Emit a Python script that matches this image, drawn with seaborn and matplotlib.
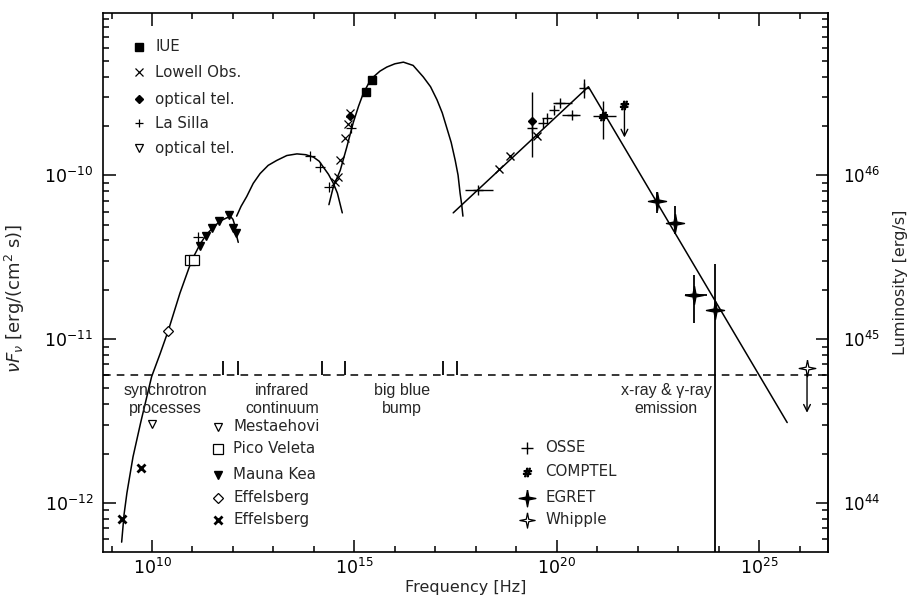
import numpy as np
import matplotlib
matplotlib.use("Agg")
import matplotlib.pyplot as plt
import seaborn as sns
from matplotlib.ticker import FixedLocator, NullFormatter

sns.set_theme(style="ticks")
plt.rcParams['font.family'] = ['DejaVu Sans']
plt.rcParams['mathtext.fontset'] = 'dejavusans'

# ---------------- data (log10 nu [Hz], log10 nuFnu [erg/cm^2/s]) ----------------
# model curves
sync_lognu = [9.25, 9.31, 9.38, 9.53, 9.72, 9.99, 10.20, 10.40, 10.69, 10.98, 11.19, 11.35, 11.51, 11.68, 11.85, 11.95, 12.00, 12.05, 12.09, 12.13]
sync_logF = [-12.24, -12.07, -11.94, -11.72, -11.51, -11.23, -11.09, -10.95, -10.72, -10.52, -10.42, -10.36, -10.32, -10.28, -10.26, -10.255, -10.27, -10.31, -10.37, -10.41]
ir_lognu = [12.09, 12.20, 12.34, 12.50, 12.67, 12.87, 13.08, 13.33, 13.58, 13.80, 13.99, 14.13, 14.23, 14.36, 14.48, 14.58, 14.65, 14.70]
ir_logF = [-10.25, -10.19, -10.13, -10.05, -9.99, -9.94, -9.91, -9.88, -9.87, -9.875, -9.89, -9.915, -9.95, -9.995, -10.05, -10.11, -10.18, -10.23]
bbb_lognu = [14.37, 14.48, 14.65, 14.81, 14.97, 15.10, 15.22, 15.35, 15.47, 15.63, 15.80, 16.00, 16.21, 16.45, 16.70, 16.88, 17.04, 17.17, 17.28, 17.39, 17.49, 17.56, 17.61, 17.65, 17.68]
bbb_logF = [-10.18, -10.07, -9.97, -9.83, -9.68, -9.58, -9.50, -9.44, -9.40, -9.365, -9.34, -9.32, -9.31, -9.33, -9.40, -9.46, -9.54, -9.62, -9.71, -9.80, -9.91, -10.00, -10.11, -10.18, -10.25]
xray_lognu = [17.44, 20.78, 25.69]
xray_logF = [-10.23, -9.46, -11.51]

# radio / mm / IR / optical / UV measurements
effx_lognu = [9.25, 9.72]
effx_logF = [-12.10, -11.79]
mest_lognu = [9.99]
mest_logF = [-11.52]
effd_lognu = [10.40]
effd_logF = [-10.95]
pico_lognu = [10.95, 11.03]
pico_logF = [-10.52, -10.52]
mk_lognu = [11.19, 11.33, 11.48, 11.66, 11.90, 12.00, 12.08]
mk_logF = [-10.43, -10.37, -10.32, -10.28, -10.24, -10.32, -10.35]
lasilla_lognu = [11.14, 13.90, 14.15, 14.37, 14.91]
lasilla_logF = [-10.38, -9.88, -9.95, -10.07, -9.71]
lowell_lognu = [14.52, 14.60, 14.65, 14.77, 14.85, 14.88]
lowell_logF = [-10.04, -10.01, -9.91, -9.77, -9.69, -9.62]
opt_lognu = [14.88, 19.38]
opt_logF = [-9.64, -9.67]
iue_lognu = [15.28, 15.43]
iue_logF = [-9.49, -9.42]

# X-ray / OSSE
xr_lognu = [18.06, 19.38, 19.67, 19.75, 19.92, 20.08, 20.37, 20.66]
xr_logF = [-10.09, -9.71, -9.68, -9.65, -9.60, -9.56, -9.63, -9.47]
xr_lognu_lo = [17.73, 19.38, 19.67, 19.75, 19.92, 19.91, 20.12, 20.66]
xr_lognu_hi = [18.43, 19.38, 19.67, 19.75, 19.92, 20.38, 20.58, 20.66]
xr_logF_lo = [-10.09, -9.89, -9.68, -9.65, -9.60, -9.56, -9.63, -9.53]
xr_logF_hi = [-10.09, -9.49, -9.68, -9.65, -9.60, -9.56, -9.63, -9.41]
xrx_lognu = [18.56, 18.85, 19.51]
xrx_logF = [-9.96, -9.88, -9.76]

# COMPTEL
comp_lognu = [21.15]
comp_logF = [-9.64]
comp_lognu_lo = [20.90]
comp_lognu_hi = [21.45]
comp_logF_lo = [-9.78]
comp_logF_hi = [-9.55]
compul_lognu = [21.67]
compul_logF = [-9.57]
compul_logF_to = [-9.77]

# EGRET
egret_lognu = [22.47, 22.92, 23.38, 23.91]
egret_logF = [-10.16, -10.29, -10.73, -10.82]
egret_lognu_lo = [22.40, 22.85, 23.17, 23.85]
egret_lognu_hi = [22.55, 23.00, 23.71, 23.98]
egret_logF_lo = [-10.23, -10.36, -10.90, -13.00]
egret_logF_hi = [-10.10, -10.19, -10.61, -10.54]

# Whipple upper limit
whip_lognu = [26.18]
whip_logF = [-11.18]
whip_logF_to = [-11.45]

# region separator
dash_level = 6.0e-12
boundary_lognu = [11.75, 12.13, 14.20, 14.77, 17.19, 17.54]

# axis ticks
x_major_exp = [10, 15, 20, 25]
y_major_exp = [-12, -11, -10]
lum_major_exp = [44, 45, 46]
L_FACTOR = 1.0e56   # luminosity / flux conversion

# thin four-pointed star marker shape
STAR4 = [(0, 1), (0.16, 0.16), (1, 0), (0.16, -0.16), (0, -1), (-0.16, -0.16), (-1, 0), (-0.16, 0.16), (0, 1)]


def p(a):
    return 10.0 ** np.asarray(a, dtype=float)


fig = plt.figure(figsize=(9.15, 6.02), dpi=100)
ax = fig.add_axes([0.1126, 0.0831, 0.7924, 0.8953])
ax.set_xscale('log')
ax.set_yscale('log')

# model curves
for lx, ly in [(sync_lognu, sync_logF), (ir_lognu, ir_logF),
               (bbb_lognu, bbb_logF), (xray_lognu, xray_logF)]:
    sns.lineplot(x=p(lx), y=p(ly), ax=ax, color='black', lw=1.1,
                 sort=False, estimator=None)

# dashed region line & separators
ax.axhline(dash_level, color='black', lw=1.1, ls=(0, (5, 4)))
ax.vlines(p(boundary_lognu), dash_level, dash_level * 10 ** 0.09, color='black', lw=1.3)


def errs(lx, ly, lxlo, lxhi, lylo, lyhi, lw=1.0):
    x = p(lx); y = p(ly)
    ax.errorbar(x, y,
                xerr=[x - p(lxlo), p(lxhi) - x],
                yerr=[y - p(lylo), p(lyhi) - y],
                fmt='none', ecolor='black', elinewidth=lw, capsize=0, zorder=4)


# radio etc.
ax.plot(p(effx_lognu), p(effx_logF), ls='none', marker='x', ms=6, mew=2.0, color='black', zorder=5)
ax.plot(p(mest_lognu), p(mest_logF), ls='none', marker='v', ms=6, mfc='white', mec='black', mew=0.9, zorder=5)
ax.plot(p(effd_lognu), p(effd_logF), ls='none', marker='D', ms=5, mfc='white', mec='black', mew=0.9, zorder=5)
ax.plot(p(pico_lognu), p(pico_logF), ls='none', marker='s', ms=6.5, mfc='white', mec='black', mew=0.9, zorder=5)
ax.plot(p(mk_lognu), p(mk_logF), ls='none', marker='v', ms=5.5, color='black', zorder=5)
ax.plot(p(lasilla_lognu), p(lasilla_logF), ls='none', marker='+', ms=7, mew=0.9, color='black', zorder=5)
ax.plot(p(lowell_lognu), p(lowell_logF), ls='none', marker='x', ms=6, mew=0.9, color='black', zorder=5)
ax.plot(p(opt_lognu), p(opt_logF), ls='none', marker='D', ms=4.5, color='black', zorder=5)
ax.plot(p(iue_lognu), p(iue_logF), ls='none', marker='s', ms=6, color='black', zorder=5)

# X-ray
errs(xr_lognu, xr_logF, xr_lognu_lo, xr_lognu_hi, xr_logF_lo, xr_logF_hi)
ax.plot(p(xr_lognu), p(xr_logF), ls='none', marker='+', ms=7, mew=1.0, color='black', zorder=5)
ax.plot(p(xrx_lognu), p(xrx_logF), ls='none', marker='x', ms=5.5, mew=1.0, color='black', zorder=5)

# COMPTEL
errs(comp_lognu, comp_logF, comp_lognu_lo, comp_lognu_hi, comp_logF_lo, comp_logF_hi)
ax.plot(p(comp_lognu), p(comp_logF), ls='none', marker=r'$\#$', ms=6, color='black', zorder=5)
ax.plot(p(compul_lognu), p(compul_logF), ls='none', marker=r'$\#$', ms=6, color='black', zorder=5)
for x0, y0, y1 in zip(compul_lognu, compul_logF, compul_logF_to):
    ax.annotate('', xy=(10 ** x0, 10 ** y1), xytext=(10 ** x0, 10 ** y0),
                arrowprops=dict(arrowstyle='->', lw=1.0, color='black', shrinkA=0, shrinkB=0))

# EGRET
errs(egret_lognu, egret_logF, egret_lognu_lo, egret_lognu_hi, egret_logF_lo, egret_logF_hi, lw=1.3)
ax.plot(p(egret_lognu), p(egret_logF), ls='none', marker=STAR4, ms=13, color='black', zorder=5)

# Whipple
for x0, y0, y1 in zip(whip_lognu, whip_logF, whip_logF_to):
    ax.annotate('', xy=(10 ** x0, 10 ** y1), xytext=(10 ** x0, 10 ** y0),
                arrowprops=dict(arrowstyle='->', lw=1.0, color='black', shrinkA=0, shrinkB=0))
ax.plot(p(whip_lognu), p(whip_logF), ls='none', marker=STAR4, ms=12, mfc='white', mec='black', mew=0.9, zorder=6)

# limits & ticks
ax.set_xlim(10 ** 8.79, 10 ** 26.70)
ax.set_ylim(10 ** -12.30, 10 ** -9.01)
ax.xaxis.set_major_locator(FixedLocator(p(x_major_exp)))
ax.xaxis.set_minor_locator(FixedLocator(p(np.arange(9, 27))))
ax.xaxis.set_minor_formatter(NullFormatter())
ax.yaxis.set_major_locator(FixedLocator(p(y_major_exp)))
ymin_ticks = [m * 10.0 ** e for e in range(-13, -8) for m in range(2, 10)
              if 10 ** -12.30 < m * 10.0 ** e < 10 ** -9.01]
ax.yaxis.set_minor_locator(FixedLocator(ymin_ticks))
ax.yaxis.set_minor_formatter(NullFormatter())
ax.tick_params(which='both', direction='in', top=True, right=False, labeltop=False,
               colors='black', width=1.1)
ax.tick_params(which='major', length=9, labelsize=12.5)
ax.tick_params(which='minor', length=4.5)
ax.tick_params(axis='y', which='major', pad=7)
ax.tick_params(axis='x', which='major', pad=4)
for sp in ax.spines.values():
    sp.set_linewidth(1.2)
    sp.set_color('black')

sec = ax.secondary_yaxis('right', functions=(lambda f: f * L_FACTOR, lambda l: l / L_FACTOR))
sec.yaxis.set_major_locator(FixedLocator(p(lum_major_exp)))
lmin_ticks = [m * 10.0 ** e for e in range(43, 48) for m in range(2, 10)
              if 10 ** -12.30 * L_FACTOR < m * 10.0 ** e < 10 ** -9.01 * L_FACTOR]
sec.yaxis.set_minor_locator(FixedLocator(lmin_ticks))
sec.yaxis.set_minor_formatter(NullFormatter())
sec.tick_params(which='both', direction='in', colors='black', width=1.1)
sec.tick_params(which='major', length=9, labelsize=12, pad=11)
sec.tick_params(which='minor', length=4.5)
sec.spines['right'].set_linewidth(1.2)
sec.set_ylabel('Luminosity [erg/s]', fontsize=11.5, labelpad=9)

ax.set_xlabel('Frequency [Hz]', fontsize=11.5, labelpad=2)
ax.set_ylabel(r'$\nu F_\nu$ [erg/(cm$^2$ s)]', fontsize=13)
ax.yaxis.set_label_coords(-0.105, 0.47)

# region labels
rk = dict(ha='center', va='center', fontsize=11.5, family=['Liberation Sans'], linespacing=1.25)
ax.text(10 ** 10.32, 10 ** -11.37, 'synchrotron\nprocesses', **rk)
ax.text(10 ** 13.21, 10 ** -11.37, 'infrared\ncontinuum', **rk)
ax.text(10 ** 16.18, 10 ** -11.37, 'big blue\nbump', **rk)
ax.text(10 ** 22.70, 10 ** -11.37, 'x-ray & \u03b3-ray\nemission', **rk,
        bbox=dict(facecolor='white', edgecolor='none', pad=0.5))

# legends (axes-fraction placement)
tk = dict(transform=ax.transAxes, fontsize=10.8, va='center', ha='left')


def key(xm, xt, y, label, **mk):
    ax.plot([xm], [y], transform=ax.transAxes, ls='none', clip_on=False, zorder=6, **mk)
    ax.text(xt, y, label, **tk)


k1m, k1t = 0.0497, 0.0717
key(k1m, k1t, 0.937, 'IUE', marker='s', ms=6, color='black')
key(k1m, k1t, 0.8905, 'Lowell Obs.', marker='x', ms=6, mew=0.9, color='black')
key(k1m, k1t, 0.8404, 'optical tel.', marker='D', ms=4.5, color='black')
key(k1m, k1t, 0.7959, 'La Silla', marker='+', ms=6, mew=0.9, color='black')
key(k1m, k1t, 0.7495, 'optical tel.', marker='v', ms=5.5, mfc='white', mec='black', mew=0.9)

k2m, k2t = 0.1586, 0.1793
key(k2m, k2t, 0.2319, 'Mestaehovi', marker='v', ms=5.5, mfc='white', mec='black', mew=0.9)
key(k2m, k2t, 0.1911, 'Pico Veleta', marker='s', ms=6.5, mfc='white', mec='black', mew=0.9)
key(k2m, k2t, 0.1429, 'Mauna Kea', marker='v', ms=5.5, color='black')
key(k2m, k2t, 0.1002, 'Effelsberg', marker='D', ms=5, mfc='white', mec='black', mew=0.9)
key(k2m, k2t, 0.0594, 'Effelsberg', marker='x', ms=5.5, mew=2.0, color='black')

k3m, k3t = 0.5848, 0.6097
key(k3m, k3t, 0.193, 'OSSE', marker='+', ms=8, mew=1.0, color='black')
key(k3m, k3t, 0.1484, 'COMPTEL', marker=r'$\#$', ms=6, color='black')
key(k3m, k3t, 0.1002, 'EGRET', marker=STAR4, ms=12, color='black')
key(k3m, k3t, 0.0594, 'Whipple', marker=STAR4, ms=11, mfc='white', mec='black', mew=0.9)

fig.savefig('out.png', dpi=100)
